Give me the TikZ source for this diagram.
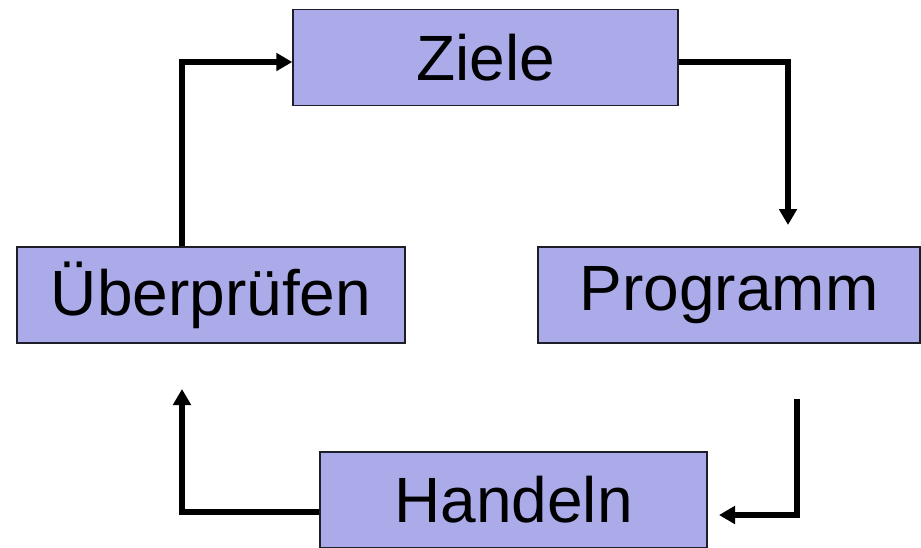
\documentclass[tikz,border=0pt]{standalone}
\usepackage{fontspec}
\setmainfont{Liberation Sans}
\usetikzlibrary{arrows.meta}
\definecolor{boxfill}{RGB}{171,171,234}
\definecolor{boxline}{RGB}{30,30,40}
\begin{document}
\begin{tikzpicture}[x=0.75pt,y=-0.75pt,
  stagebox/.style={draw=boxline,line width=1.1pt,fill=boxfill,rectangle,inner sep=0pt,
    minimum height=72pt,font=\fontsize{48}{57}\selectfont},
  flow/.style={line width=4pt,-{Triangle[length=12pt,width=13pt]}}]
\useasboundingbox (0,0) rectangle (921,547);
\node[stagebox,minimum width=288.75pt] (Z) at (485.5,57.5) {Ziele};
\node[stagebox,minimum width=291pt] (U) at (211,295) {Überprüfen};
\node[stagebox,minimum width=286.5pt] (P) at (729,295) {Programm};
\node[stagebox,minimum width=290pt] (H) at (513.5,500) {Handeln};
\coordinate (c1) at (788,225);
\coordinate (c2s) at (797,399);
\coordinate (c2e) at (719,515);
\coordinate (c3) at (182,389);
\draw[flow] (Z.east |- 0,62) -| (c1);
\draw[flow] (c2s) |- (c2e);
\draw[flow] (H.west |- 0,512) -| (c3);
\draw[flow] (U.north -| 182,0) |- (Z.west |- 0,62);
\end{tikzpicture}
\end{document}
